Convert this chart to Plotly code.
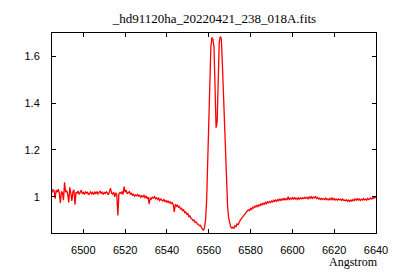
import plotly.graph_objects as go

# FITS-style wavelength axis: CRVAL1 + CDELT1 * i
crval1 = 6485.0
cdelt1 = 0.5

flux = [
    1.018, 1.030, 1.025, 0.992, 1.028, 1.020, 1.032, 1.015, 0.974, 1.022,
    1.018, 0.985, 1.062, 1.020, 1.026, 1.012, 0.976, 1.040, 1.016, 0.982,
    1.022, 1.030, 0.966, 1.020, 1.014, 1.025, 1.010, 1.020, 1.028, 1.012,
    1.018, 1.010, 1.022, 1.015, 1.019, 1.008, 1.016, 1.021, 1.012, 1.018,
    1.010, 1.020, 1.014, 1.022, 1.012, 1.018, 1.024, 1.015, 1.020, 1.010,
    1.018, 1.014, 1.021, 1.016, 1.008, 1.022, 1.036, 1.015, 1.012, 1.020,
    1.000, 1.016, 1.010, 0.920, 1.012, 1.018, 1.014, 1.022, 1.010, 1.043,
    1.020, 1.028, 1.012, 1.018, 1.022, 1.010, 1.016, 1.005, 1.012, 1.002,
    1.008, 1.004, 1.010, 1.002, 1.006, 0.998, 1.004, 1.000, 1.006, 0.996,
    1.002, 0.994, 0.998, 0.968, 0.996, 0.990, 0.998, 0.994, 1.000, 0.992,
    0.996, 0.988, 0.994, 0.984, 0.990, 0.986, 0.982, 0.988, 0.980, 0.984,
    0.976, 0.982, 0.974, 0.978, 0.970, 0.975, 0.966, 0.935, 0.968, 0.960,
    0.964, 0.955, 0.958, 0.948, 0.950, 0.940, 0.944, 0.932, 0.935, 0.925,
    0.928, 0.915, 0.918, 0.908, 0.905, 0.898, 0.900, 0.890, 0.892, 0.884,
    0.882, 0.876, 0.878, 0.868, 0.862, 0.856, 0.870, 0.905, 0.990, 1.150,
    1.300, 1.470, 1.640, 1.680, 1.672, 1.640, 1.450, 1.295, 1.320, 1.480,
    1.660, 1.685, 1.676, 1.570, 1.440, 1.300, 1.160, 1.040, 0.960, 0.910,
    0.885, 0.872, 0.866, 0.870, 0.864, 0.876, 0.872, 0.884, 0.880, 0.892,
    0.898, 0.905, 0.912, 0.918, 0.924, 0.930, 0.934, 0.940, 0.944, 0.940,
    0.950, 0.946, 0.955, 0.952, 0.960, 0.956, 0.963, 0.958, 0.966, 0.962,
    0.970, 0.965, 0.972, 0.968, 0.976, 0.970, 0.978, 0.974, 0.980, 0.975,
    0.982, 0.978, 0.985, 0.980, 0.986, 0.981, 0.988, 0.983, 0.990, 0.984,
    0.990, 0.986, 0.994, 0.985, 0.992, 0.988, 1.000, 0.986, 0.994, 0.990,
    0.996, 0.988, 0.998, 0.990, 0.994, 0.988, 0.996, 0.990, 0.995, 0.991,
    0.996, 0.992, 0.998, 0.993, 0.997, 0.991, 0.999, 0.994, 1.000, 0.993,
    0.998, 0.995, 1.002, 0.993, 0.997, 0.990, 0.994, 0.988, 0.993, 0.989,
    0.992, 0.988, 0.994, 0.987, 0.991, 0.986, 0.993, 0.988, 0.996, 0.987,
    0.992, 0.986, 0.990, 0.985, 0.991, 0.987, 0.989, 0.984, 0.990, 0.985,
    0.986, 0.982, 0.987, 0.981, 0.985, 0.980, 0.986, 0.982, 0.988, 0.983,
    0.990, 0.985, 0.992, 0.986, 0.990, 0.984, 0.989, 0.986, 0.992, 0.987,
    0.990, 0.985, 0.993, 0.988, 0.991, 0.994, 0.990, 0.997, 0.993, 1.000,
    0.996,
]
wave = [crval1 + cdelt1 * i for i in range(len(flux))]

title_text = "_hd91120ha_20220421_238_018A.fits"
x_label = "Angstrom"
x_ticks = [6500, 6520, 6540, 6560, 6580, 6600, 6620, 6640]
y_ticks = [1.0, 1.2, 1.4, 1.6]

fig = go.Figure(go.Scatter(x=wave, y=flux, mode="lines",
                           line=dict(color="#ff0000", width=1.3), hoverinfo="skip"))

axis_common = dict(showline=True, linecolor="black", linewidth=1, mirror="allticks",
                   ticks="inside", ticklen=4, tickcolor="black", showgrid=False,
                   zeroline=False,
                   tickfont=dict(family="Liberation Sans", size=11, color="black"))

fig.update_xaxes(range=[6485, 6640], tickvals=x_ticks, ticklabelstandoff=7, **axis_common)
fig.update_yaxes(range=[0.845, 1.70], tickvals=y_ticks, ticklabelstandoff=9, **axis_common)

fig.update_layout(
    width=400, height=280,
    margin=dict(l=52, r=19, t=33, b=47),
    paper_bgcolor="white", plot_bgcolor="white",
    showlegend=False,
    title=dict(text=title_text, x=0.536, xref="container", xanchor="center",
               y=1 - 18.3 / 280, yref="container", yanchor="middle",
               font=dict(family="Liberation Serif", size=13, color="black")),
    annotations=[dict(text=x_label, xref="paper", yref="paper",
                      x=(385 - 52) / 329, y=-(262 - 233) / 200,
                      xanchor="right", yanchor="middle", showarrow=False,
                      font=dict(family="Liberation Serif", size=12, color="black"))],
)

fig.write_html("out.html")
